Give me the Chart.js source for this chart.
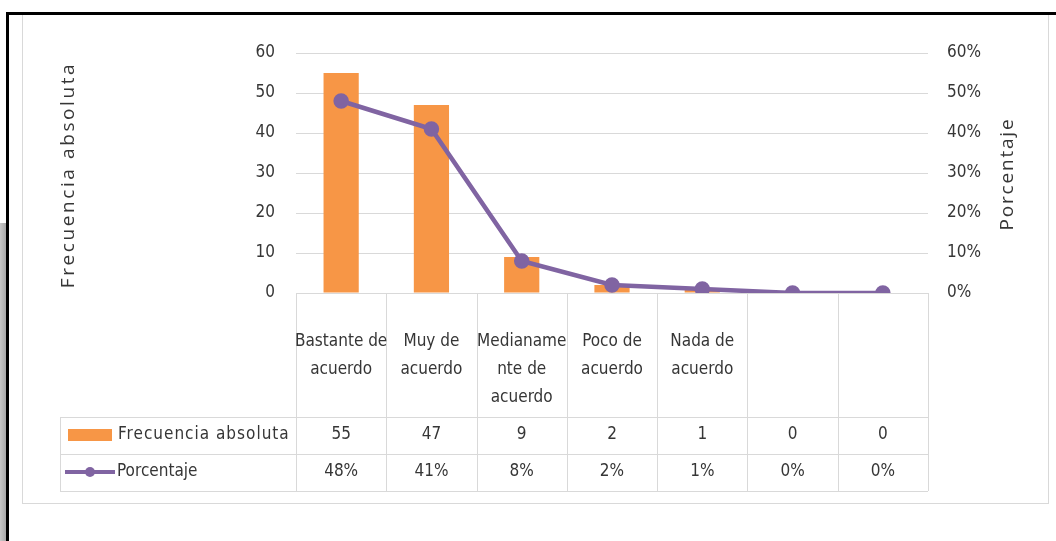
<!DOCTYPE html>
<html lang="es">
<head>
  <meta charset="UTF-8">
  <title>Frecuencia absoluta y porcentaje</title>
  <script src="https://cdn.jsdelivr.net/npm/chart.js"></script>
  <style>
    body { margin: 0; background: #fff; }
    #wrap { position: relative; width: 1056px; height: 541px; overflow: hidden; }
    #frame { position: absolute; left: 22px; top: 13px; width: 1025px; height: 489px; border: 1px solid #d9d9d9; }
    #topLine { position: absolute; left: 6px; top: 12px; width: 1050px; height: 3px; background: #000; }
    #leftLine { position: absolute; left: 6px; top: 12px; width: 3px; height: 529px; background: #000; }
    #strip { position: absolute; left: 0; top: 223px; width: 6px; height: 318px; background: linear-gradient(to right, #c8c8c8, #a8a8a8); }
    canvas { position: absolute; left: 0; top: 0; }
  </style>
</head>
<body>
  <div id="wrap">
    <div id="frame"></div>
    <canvas id="chart" width="1056" height="541"></canvas>
    <div id="topLine"></div>
    <div id="leftLine"></div>
    <div id="strip"></div>
  </div>
  <script>
    const categories = [
      ['Bastante de', 'acuerdo'],
      ['Muy de', 'acuerdo'],
      ['Medianame', 'nte de', 'acuerdo'],
      ['Poco de', 'acuerdo'],
      ['Nada de', 'acuerdo'],
      [''],
      ['']
    ];
    const frecuencia = [55, 47, 9, 2, 1, 0, 0];
    const porcentaje = [48, 41, 8, 2, 1, 0, 0];
    const porcentajeLabels = ['48%', '41%', '8%', '2%', '1%', '0%', '0%'];

    const ORANGE = '#F79646';
    const PURPLE = '#8064A2';
    const GRID = '#d9d9d9';
    const TEXT = '#363636';
    const NARROW = "'Liberation Sans Narrow', 'DejaVu Sans Condensed', 'Liberation Sans', sans-serif";

    // data table under the plot + axis titles
    const tablePlugin = {
      id: 'dataTable',
      afterDraw(chart) {
        const ctx = chart.ctx;
        const area = chart.chartArea;
        const x = chart.scales.x;
        const step = (area.right - area.left) / categories.length;
        const labelBottom = 417, row1 = 454, row2 = 491, tableLeft = 60;

        ctx.save();
        ctx.strokeStyle = GRID;
        ctx.lineWidth = 1;
        ctx.beginPath();
        for (let i = 0; i <= categories.length; i++) {
          const px = Math.round(area.left + i * step) + 0.5;
          ctx.moveTo(px, area.bottom);
          ctx.lineTo(px, row2);
        }
        [labelBottom, row1, row2].forEach(y => {
          ctx.moveTo(tableLeft, y + 0.5);
          ctx.lineTo(area.right, y + 0.5);
        });
        ctx.moveTo(tableLeft + 0.5, labelBottom);
        ctx.lineTo(tableLeft + 0.5, row2);
        ctx.stroke();

        ctx.fillStyle = TEXT;
        ctx.font = '17px ' + NARROW;
        ctx.textAlign = 'center';
        ctx.textBaseline = 'middle';
        categories.forEach((lines, i) => {
          const cx = x.getPixelForValue(i);
          lines.forEach((t, j) => ctx.fillText(t, cx, 342 + j * 28));
          ctx.fillText(String(frecuencia[i]), cx, 435);
          ctx.fillText(porcentajeLabels[i], cx, 472);
        });

        // legend keys
        ctx.fillStyle = ORANGE;
        ctx.fillRect(68, 429, 44, 12);
        ctx.strokeStyle = PURPLE;
        ctx.lineWidth = 4;
        ctx.beginPath();
        ctx.moveTo(65, 472);
        ctx.lineTo(115, 472);
        ctx.stroke();
        ctx.fillStyle = PURPLE;
        ctx.beginPath();
        ctx.arc(90, 472, 5, 0, Math.PI * 2);
        ctx.fill();

        ctx.fillStyle = TEXT;
        ctx.textAlign = 'left';
        ctx.letterSpacing = '1px';
        ctx.fillText('Frecuencia absoluta', 118, 435);
        ctx.letterSpacing = '0px';
        ctx.fillText('Porcentaje', 117, 472);

        // axis titles
        ctx.font = "19px 'Open Sans', 'DejaVu Sans', sans-serif";
        ctx.textAlign = 'center';
        ctx.letterSpacing = '2.6px';
        ctx.save();
        ctx.translate(69, 175);
        ctx.rotate(-Math.PI / 2);
        ctx.fillText('Frecuencia absoluta', 0, 0);
        ctx.restore();
        ctx.letterSpacing = '1.8px';
        ctx.save();
        ctx.translate(1008, 174);
        ctx.rotate(-Math.PI / 2);
        ctx.fillText('Porcentaje', 0, 0);
        ctx.restore();
        ctx.restore();
      }
    };

    new Chart(document.getElementById('chart'), {
      type: 'bar',
      data: {
        labels: categories,
        datasets: [
          {
            type: 'line',
            label: 'Porcentaje',
            data: porcentaje,
            yAxisID: 'y1',
            borderColor: PURPLE,
            backgroundColor: PURPLE,
            borderWidth: 4.5,
            pointRadius: 5.5,
            pointHoverRadius: 5.5,
            tension: 0,
            order: 0
          },
          {
            label: 'Frecuencia absoluta',
            data: frecuencia,
            yAxisID: 'y',
            backgroundColor: ORANGE,
            barPercentage: 0.39,
            categoryPercentage: 1,
            order: 1
          }
        ]
      },
      options: {
        responsive: false,
        animation: false,
        layout: { padding: { left: 200, right: 48, top: 53, bottom: 248 } },
        plugins: {
          legend: { display: false },
          tooltip: { enabled: false }
        },
        scales: {
          x: { display: false },
          y: {
            position: 'left',
            min: 0, max: 60,
            ticks: { stepSize: 10, padding: 21, color: TEXT, font: { family: NARROW, size: 17 } },
            grid: { color: GRID, drawTicks: false },
            border: { display: false },
            afterFit(s) { s.width = 96; }
          },
          y1: {
            position: 'right',
            min: 0, max: 60,
            ticks: { stepSize: 10, padding: 19, color: TEXT, font: { family: NARROW, size: 17 }, callback: v => v + '%' },
            grid: { display: false, drawTicks: false },
            border: { display: false },
            afterFit(s) { s.width = 80; }
          }
        }
      },
      plugins: [tablePlugin]
    });
  </script>
</body>
</html>
